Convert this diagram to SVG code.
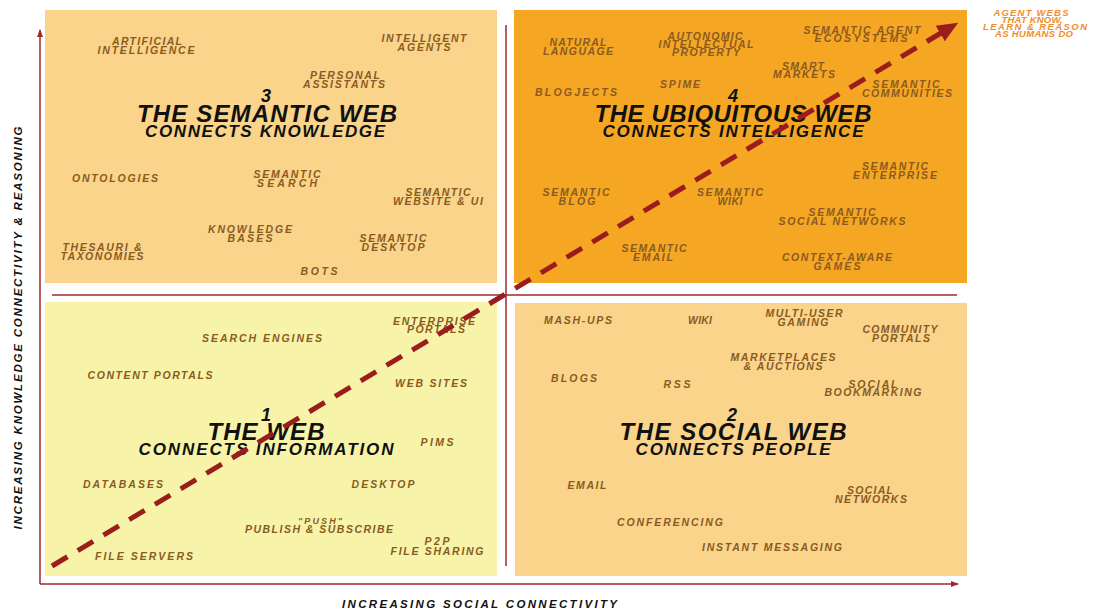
<svg xmlns="http://www.w3.org/2000/svg" width="1097" height="610" viewBox="0 0 1097 610">
<style>
text{font-family:"Liberation Sans",Arial,sans-serif;font-weight:bold;font-style:italic;text-anchor:middle}
.l{font-size:10.5px;fill:#8a5a22}
.n{font-size:18px;fill:#111}
.h{font-size:24px;fill:#111}
.s{font-size:17px;fill:#111}
.ax{font-size:11.5px;fill:#111}
.tr{font-size:9.5px;fill:#f28c2a}
.axis{stroke:#9e2a2b;stroke-width:1.5;fill:none}
.q3{fill:#f9d48a}.q4{fill:#f5a623}.q1{fill:#f7f4aa}.q2{fill:#f9d48a}
</style>
<defs>
<marker id="ah" markerUnits="userSpaceOnUse" markerWidth="8" markerHeight="8" refX="7" refY="4" orient="auto"><path d="M0,1 L8,4 L0,7 z" fill="#9e2a2b"/></marker>
<marker id="big" markerUnits="userSpaceOnUse" markerWidth="22" markerHeight="20" refX="1" refY="10" orient="auto"><path d="M0,1 L21,10 L0,19 z" fill="#9b1c1c"/></marker>
</defs>
<rect width="1097" height="610" fill="#fff"/>

<g id="q3">
<rect class="q3" x="45" y="10" width="452" height="273"/>
<text class="l" x="147" y="45" textLength="70">ARTIFICIAL</text>
<text class="l" x="146" y="54" textLength="97">INTELLIGENCE</text>
<text class="l" x="424" y="42" textLength="85">INTELLIGENT</text>
<text class="l" x="424" y="51" textLength="53">AGENTS</text>
<text class="l" x="345" y="79" textLength="70">PERSONAL</text>
<text class="l" x="344" y="88" textLength="82">ASSISTANTS</text>
<text class="n" x="266" y="102">3</text>
<text class="h" x="267" y="122" textLength="260">THE SEMANTIC WEB</text>
<text class="s" x="265" y="137" textLength="240">CONNECTS KNOWLEDGE</text>
<text class="l" x="115" y="182" textLength="86">ONTOLOGIES</text>
<text class="l" x="287" y="178" textLength="67">SEMANTIC</text>
<text class="l" x="287" y="187" textLength="60">SEARCH</text>
<text class="l" x="438" y="196" textLength="65">SEMANTIC</text>
<text class="l" x="438" y="205" textLength="90">WEBSITE &amp; UI</text>
<text class="l" x="250" y="233" textLength="84">KNOWLEDGE</text>
<text class="l" x="250" y="242" textLength="45">BASES</text>
<text class="l" x="393" y="242" textLength="67">SEMANTIC</text>
<text class="l" x="393" y="251" textLength="63">DESKTOP</text>
<text class="l" x="102" y="251" textLength="79">THESAURI &amp;</text>
<text class="l" x="102" y="260" textLength="83">TAXONOMIES</text>
<text class="l" x="319" y="275" textLength="37">BOTS</text>
</g>

<g id="q4">
<rect class="q4" x="514" y="10" width="453" height="273"/>
<text class="l" x="578" y="46" textLength="57">NATURAL</text>
<text class="l" x="578" y="55" textLength="70">LANGUAGE</text>
<text class="l" x="705" y="40" textLength="75">AUTONOMIC</text>
<text class="l" x="706" y="48" textLength="95">INTELLECTUAL</text>
<text class="l" x="706" y="56" textLength="68">PROPERTY</text>
<text class="l" x="862" y="34" textLength="117">SEMANTIC AGENT</text>
<text class="l" x="861" y="42" textLength="93">ECOSYSTEMS</text>
<text class="l" x="803" y="70" textLength="42">SMART</text>
<text class="l" x="804" y="78" textLength="62">MARKETS</text>
<text class="l" x="680" y="88" textLength="40">SPIME</text>
<text class="l" x="576" y="96" textLength="82">BLOGJECTS</text>
<text class="l" x="906" y="88" textLength="67">SEMANTIC</text>
<text class="l" x="907" y="97" textLength="90">COMMUNITIES</text>
<text class="n" x="733" y="102">4</text>
<text class="h" x="733" y="122" textLength="277">THE UBIQUITOUS WEB</text>
<text class="s" x="733" y="137" textLength="261">CONNECTS INTELLIGENCE</text>
<text class="l" x="895" y="170" textLength="66">SEMANTIC</text>
<text class="l" x="895" y="179" textLength="84">ENTERPRISE</text>
<text class="l" x="576" y="196" textLength="67">SEMANTIC</text>
<text class="l" x="577" y="205" textLength="37">BLOG</text>
<text class="l" x="730" y="196" textLength="66">SEMANTIC</text>
<text class="l" x="730" y="205" textLength="25">WIKI</text>
<text class="l" x="842" y="216" textLength="67">SEMANTIC</text>
<text class="l" x="842" y="225" textLength="127">SOCIAL NETWORKS</text>
<text class="l" x="654" y="252" textLength="65">SEMANTIC</text>
<text class="l" x="653" y="261" textLength="40">EMAIL</text>
<text class="l" x="837" y="261" textLength="110">CONTEXT-AWARE</text>
<text class="l" x="837" y="270" textLength="47">GAMES</text>
</g>

<g id="q1">
<rect class="q1" x="45" y="302" width="452" height="274"/>
<text class="l" x="434" y="325" textLength="82">ENTERPRISE</text>
<text class="l" x="436" y="333" textLength="58">PORTALS</text>
<text class="l" x="262" y="342" textLength="120">SEARCH ENGINES</text>
<text class="l" x="150" y="379" textLength="125">CONTENT PORTALS</text>
<text class="l" x="431" y="387" textLength="72">WEB SITES</text>
<text class="n" x="266" y="421">1</text>
<text class="h" x="266" y="440" textLength="117">THE WEB</text>
<text class="s" x="266" y="455" textLength="255">CONNECTS INFORMATION</text>
<text class="l" x="437" y="446" textLength="33">PIMS</text>
<text class="l" x="123" y="488" textLength="80">DATABASES</text>
<text class="l" x="383" y="488" textLength="63">DESKTOP</text>
<text class="l" x="320" y="524" textLength="44" style="font-size:9px">"PUSH"</text>
<text class="l" x="319" y="533" textLength="148">PUBLISH &amp; SUBSCRIBE</text>
<text class="l" x="437" y="545" textLength="25">P2P</text>
<text class="l" x="437" y="555" textLength="93">FILE SHARING</text>
<text class="l" x="144" y="560" textLength="98">FILE SERVERS</text>
</g>

<g id="q2">
<rect class="q2" x="515" y="303" width="452" height="273"/>
<text class="l" x="578" y="324" textLength="68">MASH-UPS</text>
<text class="l" x="700" y="324" textLength="24">WIKI</text>
<text class="l" x="804" y="317" textLength="77">MULTI-USER</text>
<text class="l" x="803" y="326" textLength="51">GAMING</text>
<text class="l" x="900" y="333" textLength="75">COMMUNITY</text>
<text class="l" x="901" y="342" textLength="58">PORTALS</text>
<text class="l" x="783" y="361" textLength="105">MARKETPLACES</text>
<text class="l" x="783" y="370" textLength="79">&amp; AUCTIONS</text>
<text class="l" x="574" y="382" textLength="46">BLOGS</text>
<text class="l" x="677" y="388" textLength="27">RSS</text>
<text class="l" x="873" y="388" textLength="49">SOCIAL</text>
<text class="l" x="873" y="396" textLength="97">BOOKMARKING</text>
<text class="n" x="732" y="421">2</text>
<text class="h" x="733" y="440" textLength="227">THE SOCIAL WEB</text>
<text class="s" x="733" y="455" textLength="195">CONNECTS PEOPLE</text>
<text class="l" x="587" y="489" textLength="39">EMAIL</text>
<text class="l" x="870" y="494" textLength="46">SOCIAL</text>
<text class="l" x="871" y="503" textLength="72">NETWORKS</text>
<text class="l" x="670" y="526" textLength="106">CONFERENCING</text>
<text class="l" x="772" y="551" textLength="140">INSTANT MESSAGING</text>
</g>

<g id="connectors">
<line class="axis" x1="40" y1="584" x2="40" y2="30" marker-end="url(#ah)"/>
<line class="axis" x1="40" y1="584" x2="958" y2="584" marker-end="url(#ah)"/>
<line class="axis" x1="52" y1="295" x2="957" y2="295"/>
<line class="axis" x1="506" y1="25" x2="506" y2="566"/>
<line x1="52" y1="566" x2="941" y2="33" stroke="#9b1c1c" stroke-width="5" stroke-dasharray="18 12" marker-end="url(#big)"/>
</g>

<g id="labels">
<text class="ax" x="342" y="608" textLength="275" style="text-anchor:start">INCREASING SOCIAL CONNECTIVITY</text>
<text class="ax" transform="translate(22,328) rotate(-90)" x="0" y="0" textLength="403">INCREASING KNOWLEDGE CONNECTIVITY &amp; REASONING</text>
<text class="tr" x="1031" y="16" textLength="75">AGENT WEBS</text>
<text class="tr" x="1032" y="23" textLength="61">THAT KNOW,</text>
<text class="tr" x="1035" y="30" textLength="104">LEARN &amp; REASON</text>
<text class="tr" x="1034" y="37" textLength="78">AS HUMANS DO</text>
</g>
</svg>
